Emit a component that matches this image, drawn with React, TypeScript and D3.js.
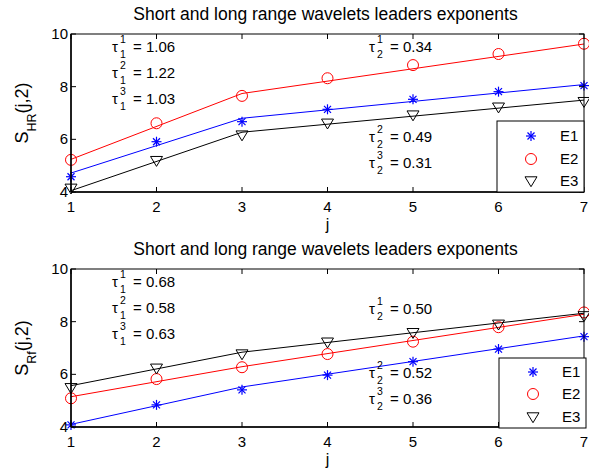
import React from "react";
import * as d3 from "d3";

const jValues = [1, 2, 3, 4, 5, 6, 7];
const xTicks = [1, 2, 3, 4, 5, 6, 7];
const yTicks = [4, 6, 8, 10];
const seriesNames = ["E1", "E2", "E3"];
const seriesColors = ["#0000ff", "#ff0000", "#000000"];
const seriesMarkers = ["star", "circle", "triangle"];

// Top panel (HR)
const hrE1 = [4.58, 5.91, 6.67, 7.14, 7.52, 7.81, 8.04];
const hrE2 = [5.22, 6.61, 7.65, 8.32, 8.82, 9.24, 9.63];
const hrE3 = [4.14, 5.19, 6.16, 6.61, 6.92, 7.22, 7.43];
// fitted lines at j = 1, 3, 7
const fitJ = [1, 3, 7];
const hrFitE1 = [4.72, 6.8, 8.08];
const hrFitE2 = [5.24, 7.74, 9.62];
const hrFitE3 = [4.05, 6.27, 7.49];
const hrTau1 = ["1.06", "1.22", "1.03"];
const hrTau2 = ["0.34", "0.49", "0.31"];

// Bottom panel (Rf)
const rfE1 = [4.08, 4.84, 5.41, 5.97, 6.48, 6.96, 7.43];
const rfE2 = [5.09, 5.82, 6.27, 6.77, 7.24, 7.79, 8.35];
const rfE3 = [5.49, 6.23, 6.77, 7.22, 7.58, 7.9, 8.22];
const rfFitE1 = [4.1, 5.52, 7.46];
const rfFitE2 = [5.15, 6.29, 8.28];
const rfFitE3 = [5.57, 6.84, 8.32];
const rfTau1 = ["0.68", "0.58", "0.63"];
const rfTau2 = ["0.50", "0.52", "0.36"];

const titleText = "Short and long range wavelets leaders exponents";
const FONT = "'Liberation Sans', Arial, Helvetica, sans-serif";

function Marker({ type, x, y, color }: { type: string; x: number; y: number; color: string }) {
  if (type === "circle") {
    return <circle cx={x} cy={y} r={5.5} fill="none" stroke={color} strokeWidth={1} />;
  }
  if (type === "triangle") {
    const s = 6;
    const p = `${x - s},${y - s * 0.7} ${x + s},${y - s * 0.7} ${x},${y + s * 0.95}`;
    return <polygon points={p} fill="none" stroke={color} strokeWidth={1} />;
  }
  const r = 5;
  const a = r * 0.7;
  return (
    <g stroke={color} strokeWidth={1.2}>
      <line x1={x - r} y1={y} x2={x + r} y2={y} />
      <line x1={x} y1={y - r} x2={x} y2={y + r} />
      <line x1={x - a} y1={y - a} x2={x + a} y2={y + a} />
      <line x1={x - a} y1={y + a} x2={x + a} y2={y - a} />
    </g>
  );
}

function Tau({ x, y, sup, sub, value }: { x: number; y: number; sup: string; sub: string; value: string }) {
  return (
    <g fontFamily={FONT} fill="#000">
      <text x={x} y={y} fontSize={15}>τ</text>
      <text x={x + 8} y={y - 9} fontSize={10.5}>{sup}</text>
      <text x={x + 8} y={y + 6} fontSize={10.5}>{sub}</text>
      <text x={x + 21} y={y} fontSize={15}>= {value}</text>
    </g>
  );
}

function Panel({
  top,
  data,
  fits,
  tau1,
  tau2,
  yLabelSub,
  tauPos,
  legendBox,
}: {
  top: number;
  data: number[][];
  fits: number[][];
  tau1: string[];
  tau2: string[];
  yLabelSub: string;
  tauPos: { left: number[]; right: number[] };
  legendBox: { x: number; y: number; w: number; h: number; rows: number[] };
}) {
  const x0 = 71;
  const x1 = 584;
  const y0 = top;
  const y1 = top + 158;
  const x = d3.scaleLinear().domain([1, 7]).range([x0, x1]);
  const y = d3.scaleLinear().domain([4, 10]).range([y1, y0]);
  const line = d3
    .line<[number, number]>()
    .x((d) => x(d[0]))
    .y((d) => y(d[1]));
  const tl = 5;
  return (
    <g>
      <text x={(x0 + x1) / 2 - 2} y={top - 14} textAnchor="middle" fontSize={17.5} fontFamily={FONT}>
        {titleText}
      </text>
      {fits.map((f, i) => (
        <path
          key={"f" + i}
          d={line(fitJ.map((j, k) => [j, f[k]] as [number, number])) || ""}
          fill="none"
          stroke={seriesColors[i]}
          strokeWidth={1}
        />
      ))}
      {data.map((s, i) =>
        s.map((v, k) => (
          <Marker key={`m${i}-${k}`} type={seriesMarkers[i]} x={x(jValues[k])} y={y(v)} color={seriesColors[i]} />
        ))
      )}
      {/* axes box */}
      <rect x={x0} y={y0} width={x1 - x0} height={y1 - y0} fill="none" stroke="#000" strokeWidth={1} />
      <line x1={x0} y1={y0} x2={x0} y2={y1} stroke="#000" strokeWidth={1.5} />
      <line x1={x0} y1={y1} x2={x1} y2={y1} stroke="#000" strokeWidth={1.5} />
      {xTicks.map((t) => (
        <g key={"xt" + t}>
          <line x1={x(t)} x2={x(t)} y1={y1} y2={y1 - tl} stroke="#000" />
          <line x1={x(t)} x2={x(t)} y1={y0} y2={y0 + tl} stroke="#000" />
          <text x={x(t)} y={y1 + 20} textAnchor="middle" fontSize={15} fontFamily={FONT}>
            {t}
          </text>
        </g>
      ))}
      {yTicks.map((t) => (
        <g key={"yt" + t}>
          <line x1={x0} x2={x0 + tl} y1={y(t)} y2={y(t)} stroke="#000" />
          <line x1={x1} x2={x1 - tl} y1={y(t)} y2={y(t)} stroke="#000" />
          <text x={x0 - 3} y={y(t) + 5} textAnchor="end" fontSize={15} fontFamily={FONT}>
            {t}
          </text>
        </g>
      ))}
      <text x={x(4)} y={y1 + 38} textAnchor="middle" fontSize={16} fontFamily={FONT}>
        j
      </text>
      <g transform={`translate(28, ${(y0 + y1) / 2 - 0}) rotate(-90)`}>
        <text textAnchor="middle" fontSize={18} fontFamily={FONT}>
          S<tspan fontSize={12.5} dy={8}>{yLabelSub}</tspan>
          <tspan dy={-8} fontSize={18}>(j,2)</tspan>
        </text>
      </g>
      {tau1.map((v, i) => (
        <Tau key={"t1" + i} x={112} y={tauPos.left[i]} sup={String(i + 1)} sub="1" value={v} />
      ))}
      {tau2.map((v, i) => (
        <Tau key={"t2" + i} x={369} y={tauPos.right[i]} sup={String(i + 1)} sub="2" value={v} />
      ))}
      <rect
        x={legendBox.x}
        y={legendBox.y}
        width={legendBox.w}
        height={legendBox.h}
        fill="#fff"
        stroke="#000"
        strokeWidth={1}
      />
      {seriesNames.map((n, i) => (
        <g key={"lg" + i}>
          <Marker type={seriesMarkers[i]} x={legendBox.x + 34} y={legendBox.rows[i]} color={seriesColors[i]} />
          <text x={legendBox.x + 63} y={legendBox.rows[i] + 5} fontSize={15} fontFamily={FONT}>
            {n}
          </text>
        </g>
      ))}
    </g>
  );
}

export default function App() {
  return (
    <svg width={589} height={474} style={{ position: "absolute", left: 0, top: 0, background: "#fff" }}>
      <rect x={0} y={0} width={589} height={474} fill="#fff" />
      <Panel
        top={34}
        data={[hrE1, hrE2, hrE3]}
        fits={[hrFitE1, hrFitE2, hrFitE3]}
        tau1={hrTau1}
        tau2={hrTau2}
        yLabelSub="HR"
        tauPos={{ left: [52, 78, 104], right: [52, 142, 168] }}
        legendBox={{ x: 497, y: 121, w: 87, h: 71, rows: [136, 159, 181] }}
      />
      <Panel
        top={269}
        data={[rfE1, rfE2, rfE3]}
        fits={[rfFitE1, rfFitE2, rfFitE3]}
        tau1={rfTau1}
        tau2={rfTau2}
        yLabelSub="Rf"
        tauPos={{ left: [287, 313, 339], right: [314, 378, 404] }}
        legendBox={{ x: 499, y: 358, w: 87, h: 70, rows: [372, 394, 417] }}
      />
    </svg>
  );
}
